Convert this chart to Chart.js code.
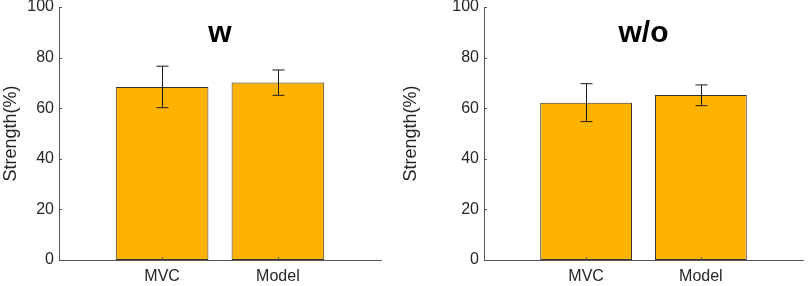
<!DOCTYPE html>
<html>
<head>
<meta charset="utf-8">
<script src="https://cdn.jsdelivr.net/npm/chart.js@4.4.1/dist/chart.umd.min.js"></script>
<style>
  html, body { margin: 0; padding: 0; background: #fff; }
  .panel { position: absolute; top: 0; height: 286px; }
  #left  { left: 0;     width: 400px; }
  #right { left: 400px; width: 409px; }
</style>
</head>
<body>
<div class="panel" id="left"><canvas id="chartW"></canvas></div>
<div class="panel" id="right"><canvas id="chartWo"></canvas></div>
<script>
// ── data ──
const categories = ['MVC', 'Model'];
const yTicks = [0, 20, 40, 60, 80, 100];

const withMean = [68.4, 70.2];
const withLow  = [60.2, 65.1];
const withHigh = [76.6, 75.1];

const withoutMean = [62.2, 65.2];
const withoutLow  = [54.7, 61.0];
const withoutHigh = [69.7, 69.2];

const FONT = "'Liberation Sans', Arial, sans-serif";
const TEXT = '#262626';
const AXIS = '#555555';

// error bars + inward ticks + panel title
const extrasPlugin = {
  id: 'extras',
  afterDatasetsDraw(chart, args, opts) {
    const ctx = chart.ctx;
    const x = chart.scales.x, y = chart.scales.y;
    const area = chart.chartArea;
    ctx.save();

    // error bars
    ctx.strokeStyle = '#1a1a1a';
    ctx.lineWidth = 1;
    opts.low.forEach((lo, i) => {
      const px = Math.round(x.getPixelForValue(i + 1)) + 0.5;
      const yl = y.getPixelForValue(lo), yh = y.getPixelForValue(opts.high[i]);
      ctx.beginPath();
      ctx.moveTo(px, yl); ctx.lineTo(px, yh);
      ctx.moveTo(px - 6, yl); ctx.lineTo(px + 6, yl);
      ctx.moveTo(px - 6, yh); ctx.lineTo(px + 6, yh);
      ctx.stroke();
    });

    // inward tick marks
    ctx.strokeStyle = AXIS;
    yTicks.forEach(v => {
      const py = Math.round(y.getPixelForValue(v)) + 0.5;
      ctx.beginPath(); ctx.moveTo(area.left, py); ctx.lineTo(area.left + 3, py); ctx.stroke();
    });
    categories.forEach((c, i) => {
      const px = Math.round(x.getPixelForValue(i + 1)) + 0.5;
      ctx.beginPath(); ctx.moveTo(px, area.bottom); ctx.lineTo(px, area.bottom - 3); ctx.stroke();
    });

    // title inside the axes
    ctx.fillStyle = '#000';
    ctx.font = 'bold 30px ' + FONT;
    ctx.textAlign = 'center';
    ctx.textBaseline = 'alphabetic';
    ctx.fillText(opts.title, (area.left + area.right) / 2, 42);
    ctx.restore();
  }
};

function makePanel(canvasId, title, mean, low, high, axisWidth, padRight) {
  new Chart(document.getElementById(canvasId), {
    type: 'bar',
    data: {
      datasets: [{
        data: mean.map((v, i) => ({ x: i + 1, y: v })),
        backgroundColor: '#FFB300',
        borderColor: '#333333',
        borderWidth: 1,
        borderSkipped: false,
        barPercentage: 0.8,
        categoryPercentage: 1.0
      }]
    },
    options: {
      responsive: true,
      maintainAspectRatio: false,
      animation: false,
      layout: { padding: { top: 7, right: padRight, left: 0, bottom: 0 } },
      plugins: {
        legend: { display: false },
        tooltip: { enabled: false },
        extras: { title: title, low: low, high: high }
      },
      scales: {
        x: {
          type: 'linear',
          offset: false,
          min: 0.11, max: 2.89,
          afterBuildTicks: s => { s.ticks = categories.map((c, i) => ({ value: i + 1 })); },
          afterFit: s => { s.height = 26; s.paddingLeft = 0; s.paddingRight = 0; },
          grid: { display: false, drawTicks: false, offset: false },
          border: { display: true, color: AXIS, width: 1 },
          ticks: {
            color: TEXT, padding: 7, maxRotation: 0,
            font: { family: FONT, size: 16 },
            callback: v => categories[v - 1]
          }
        },
        y: {
          min: 0, max: 100,
          afterBuildTicks: s => { s.ticks = yTicks.map(v => ({ value: v })); },
          afterFit: s => { s.width = axisWidth; s.paddingTop = 0; s.paddingBottom = 0; },
          grid: { display: false, drawTicks: false },
          border: { display: true, color: AXIS, width: 1 },
          ticks: { color: TEXT, padding: 5, font: { family: FONT, size: 16 } },
          title: {
            display: true, text: 'Strength(%)', color: TEXT,
            font: { family: FONT, size: 18 },
            padding: { top: 0, bottom: 0 }
          }
        }
      }
    },
    plugins: [extrasPlugin]
  });
}

makePanel('chartW',  'w',   withMean,    withLow,    withHigh,    59, 19);
makePanel('chartWo', 'w/o', withoutMean, withoutLow, withoutHigh, 84, 6);
</script>
</body>
</html>
